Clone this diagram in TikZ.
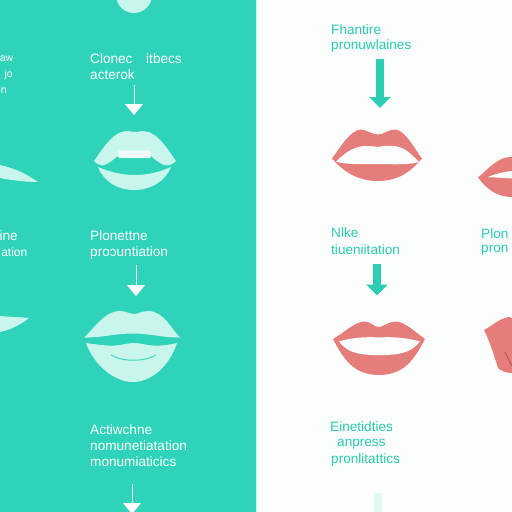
\documentclass[tikz,border=0pt]{standalone}
\usepackage{fontspec}
\setmainfont{Liberation Sans}
\usetikzlibrary{arrows.meta}
\definecolor{panel}{HTML}{2ED3B9}
\definecolor{paper}{HTML}{FBFEFD}
\definecolor{pale}{HTML}{C8F5EC}
\definecolor{coral}{HTML}{E57D7A}
\definecolor{tealtxt}{HTML}{2AC8B2}
\definecolor{tealarrow}{HTML}{2CCDB2}
\tikzset{
  x=1pt,y=-1pt,
  lbl/.style={anchor=west,inner sep=0pt,font=\fontsize{13.6}{13.6}\selectfont,text=white},
  lblr/.style={lbl,text=tealtxt},
  lbls/.style={lbl,anchor=east,font=\fontsize{10.5}{10.5}\selectfont},
  lipw/.style={fill=pale,draw=none},
  lipr/.style={fill=coral,draw=none},
  thin arrow/.style={draw=white,line width=1pt,-{Triangle[width=18pt,length=11pt,fill=white]}},
  thick arrow/.style={draw=tealarrow,line width=8pt,-{Triangle[width=21pt,length=11pt,fill=tealarrow]}},
  faint arrow/.style={draw=tealarrow!12!paper,line width=8pt},
}
\begin{document}
\begin{tikzpicture}
\useasboundingbox (0,0) rectangle (512,512);
\begin{scope}
\clip (0,0) rectangle (512,512);
\fill[paper] (0,0) rectangle (512,512);
\fill[panel] (0,0) rectangle (255.5,512);
\fill[pale] (255.5,0) rectangle (257,512);
% top circle
\fill[pale] (134,-5) circle (18);
% left fragments
\fill[pale] (0,165) .. controls (15,168) and (28,175) .. (38,182) .. controls (25,182) and (10,180) .. (0,178) -- cycle;
\fill[pale] (0,316) .. controls (10,317) and (20,317) .. (29,318) .. controls (20,325) and (10,330) .. (0,332) -- cycle;
% teal lips 1
\fill[lipw] (94,161) .. controls (100,153) and (112,131) .. (127,131) .. controls (130,131) and (132,132) .. (135,132) .. controls (138,132) and (140,131) .. (143,131) .. controls (158,131) and (170,153) .. (176,161) .. controls (172,165) and (168,166) .. (164,165) .. controls (160,163) and (155,160) .. (151,156) -- (118,156) .. controls (113,160) and (108,164) .. (103,165.5) .. controls (100,165.5) and (97,164) .. (94,161) -- cycle;
\fill[white!70!pale,rounded corners=2pt] (118,150.5) rectangle (151,158);
\fill[lipw] (98,167) .. controls (110,172) and (122,175) .. (135,175) .. controls (148,175) and (160,172) .. (171,167) .. controls (165,182) and (150,190) .. (134,190) .. controls (118,190) and (104,182) .. (98,167) -- cycle;
% teal lips 2
\fill[lipw] (84,337.5) .. controls (93,330) and (104,311) .. (120,311) .. controls (126,311) and (130,314) .. (134,314) .. controls (138,314) and (142,311) .. (148,311) .. controls (164,311) and (172,330) .. (180,337.5) .. controls (165,338) and (150,333.5) .. (133,333.5) .. controls (115,333.5) and (100,338) .. (84,337.5) -- cycle;
\fill[lipw] (86,343) .. controls (100,345) and (108,346) .. (115,345.5) .. controls (123,345) and (128,343) .. (134,343) .. controls (140,343) and (145,345) .. (153,345.5) .. controls (160,346) and (168,345) .. (177,343) .. controls (170,365) and (152,382) .. (133,382) .. controls (114,382) and (94,365) .. (86,343) -- cycle;
\draw[panel!85!pale,line width=1pt] (111,355) .. controls (122,362) and (145,362) .. (156,355);
% red lips 1
\fill[lipr] (332,158.5) .. controls (338,151) and (350,129.5) .. (361,129.5) .. controls (367,130) and (372,134.5) .. (378,134.5) .. controls (384,134.5) and (388,129.5) .. (395,129.5) .. controls (405,129.5) and (416,151) .. (422,158.5) .. controls (412,170) and (400,181) .. (378,181) .. controls (356,181) and (342,170) .. (332,158.5) -- cycle;
\fill[paper] (336,161.5) .. controls (343,155) and (352,146.5) .. (365,146) .. controls (371,146) and (374,146.5) .. (378,147) .. controls (382,146) and (388,145.5) .. (394,146) .. controls (405,147) and (412,155) .. (419,162) .. controls (410,164.5) and (400,164.5) .. (378,164) .. controls (356,164) and (345,164.5) .. (336,161.5) -- cycle;
% red lips 2
\fill[lipr] (333,339) .. controls (345,332) and (355,321.5) .. (365,321.5) .. controls (371,322) and (374,327) .. (379,327) .. controls (384,327) and (388,321.5) .. (395,321.5) .. controls (405,321.5) and (415,332) .. (425,339) .. controls (415,358) and (405,375) .. (379,375) .. controls (353,375) and (343,358) .. (333,339) -- cycle;
\fill[paper] (339,341.5) .. controls (350,338) and (365,336.5) .. (379,337.5) .. controls (393,336.5) and (408,338) .. (420,341.5) .. controls (414,349) and (407,352) .. (402,353) .. controls (390,356) and (368,356) .. (356,353) .. controls (349,351) and (344,348) .. (339,341.5) -- cycle;
% right fragments
\fill[lipr] (478,177.5) .. controls (487,170) and (498,157) .. (510,157) -- (512,157) -- (512,197) .. controls (498,197) and (487,190) .. (478,177.5) -- cycle;
\fill[paper] (488,177) .. controls (495,174) and (503,172) .. (512,171) -- (512,178.5) -- cycle;
\fill[lipr] (484,330) .. controls (492,326) and (500,318) .. (509,317) -- (512,318) -- (512,373) .. controls (506,373) and (501,371) .. (498,368) .. controls (494,355) and (490,342) .. (484,330) -- cycle;
\draw[coral!70!black,line width=.7pt] (505,352) -- (512,366);
% labels
\node[lbl] (t1) at (90,58.5) {Clonec};
\node[lbl] (t1b) at (146,58.5) {itbecs};
\node[lbl] (t2) at (90,75) {acterok};
\node[lbl] (t3) at (90,236) {Plonettne};
\node[lbl] (t4) at (90,252.5) {proɔuntiation};
\node[lbl] (t5) at (90,429.5) {Actiwchne};
\node[lbl] (t6) at (90,445.5) {nomunetiatation};
\node[lbl] (t7) at (90,462) {monumiaticics};
\node[lbls] (l1) at (13.5,59) {aw};
\node[lbls] (l2) at (13,75) {jo};
\node[lbls] (l3) at (7,91) {n};
\node[lbl,anchor=east] (l4) at (18,236) {ine};
\node[lbl,anchor=east,font=\fontsize{12}{12}\selectfont] (l5) at (27.5,252.5) {ation};
\node[lblr] (r1) at (331,30) {Fhantire};
\node[lblr] (r2) at (331,46) {pronuwlaines};
\node[lblr] (r3) at (331,233) {Nlke};
\node[lblr] (r4) at (331,250) {tiueniitation};
\node[lblr] (r5) at (330,427) {Einetidties};
\node[lblr] (r6) at (337,444) {anpress};
\node[lblr] (r7) at (331,459.5) {pronlitattics};
\node[lblr] (r8) at (481,234) {Plon};
\node[lblr] (r9) at (481,250) {pron};
% arrows
\coordinate (a1s) at (134,85); \coordinate (a1e) at (134,115);
\coordinate (a2s) at (136,265); \coordinate (a2e) at (136,296);
\coordinate (a3s) at (132,484); \coordinate (a3e) at (132,514);
\coordinate (b1s) at (380,59); \coordinate (b1e) at (380,108);
\coordinate (b2s) at (377,264); \coordinate (b2e) at (377,295.5);
\coordinate (b3s) at (378,493); \coordinate (b3e) at (378,512);
\draw[thin arrow] (a1s) -- (a1e);
\draw[thin arrow] (a2s) -- (a2e);
\draw[thin arrow] (a3s) -- (a3e);
\draw[thick arrow] (b1s) -- (b1e);
\draw[thick arrow] (b2s) -- (b2e);
\draw[faint arrow] (b3s) -- (b3e);
\end{scope}
\end{tikzpicture}
\end{document}
